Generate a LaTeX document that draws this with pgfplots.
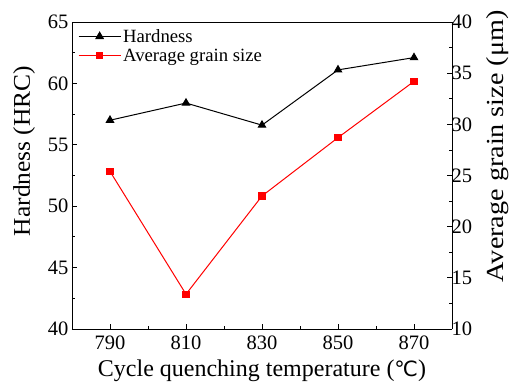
\documentclass[border=0pt]{standalone}
\usepackage{pgfplots}
\pgfplotsset{compat=1.18}
\usepackage{fontspec}
\setmainfont{Liberation Serif}
\newfontfamily\dejavu{DejaVu Sans}
\newfontfamily\wideA[FakeStretch=1.06]{Liberation Serif}
\newfontfamily\wideB[FakeStretch=1.15]{Liberation Serif}
\begin{document}
\begin{tikzpicture}
\useasboundingbox (0,0) rectangle (512pt,385pt);
\pgfplotsset{
  common/.style={
    scale only axis, width=380pt, height=307pt,
    at={(72pt,56pt)}, anchor=south west,
    xmin=780, xmax=880,
    tick align=inside,
    major tick length=5pt, minor tick length=3pt,
    tick style={black, line width=0.8pt},
    axis line style={line width=0.9pt},
    /pgf/number format/assume math mode=true,
    tick label style={font=\fontsize{20.5}{23}\selectfont},
    /pgf/number format/1000 sep={},
  }
}
\begin{axis}[common,
  xtick={790,810,830,850,870},
  minor xtick={800,820,840,860},
  xticklabel style={yshift=-3pt},
  ymin=40, ymax=65, ytick={40,45,...,65},
  minor ytick={42.5,47.5,...,62.5},
  axis y line*=left,
  axis x line*=bottom,
  xlabel={Cycle quenching temperature ({\dejavu\fontsize{21}{24}\selectfont ℃})},
  ylabel={Hardness (HRC)},
  xlabel style={font=\fontsize{24}{28}\selectfont, at={(axis description cs:0.5,-0.156)}, anchor=base},
  ylabel style={font=\wideA\fontsize{24}{28}\selectfont, at={(axis description cs:-0.126,0.58)}, anchor=center},
]
\addplot[black, line width=1pt, mark=triangle*, mark size=4.2pt] coordinates {
(790,57.0) (810,58.4) (830,56.6) (850,61.1) (870,62.1)};
\end{axis}
\begin{axis}[common,
  ymin=10, ymax=40, ytick={10,15,...,40},
  minor ytick={12.5,17.5,...,37.5},
  axis y line*=right,
  axis x line*=top,
  xtick=\empty,
  yticklabel style={xshift=-4pt},
  ylabel={Average grain size (μm)},
  ylabel style={font=\wideB\fontsize{24.5}{28}\selectfont, at={(axis description cs:1.12,0.595)}, anchor=center},
  legend style={draw=none, fill=none, at={(axis description cs:0.013,0.987)}, anchor=north west,
    font=\fontsize{18.7}{21}\selectfont, row sep=1pt, inner sep=1pt},
  legend cell align=left,
  legend image code/.code={\draw[mark repeat=2,mark phase=2] plot coordinates {(0pt,0pt) (21pt,0pt) (42pt,0pt)};},
]
\addlegendimage{black, line width=1pt, mark=triangle*, mark size=4.2pt}
\addlegendentry{Hardness}
\addplot[red, line width=1pt, mark=square*, mark size=3.2pt] coordinates {
(790,25.4) (810,13.4) (830,23.0) (850,28.7) (870,34.2)};
\addlegendentry{Average grain size}
\end{axis}
\end{tikzpicture}
\end{document}
